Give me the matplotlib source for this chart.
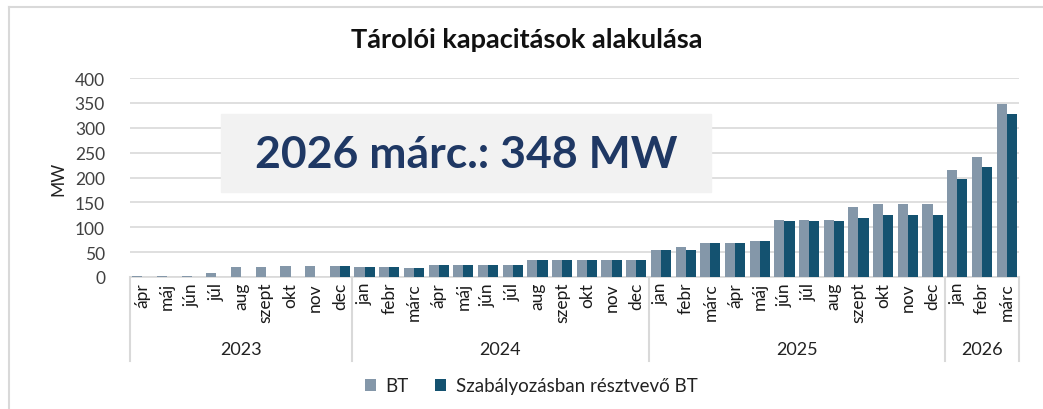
import matplotlib
matplotlib.use("Agg")
import matplotlib.pyplot as plt
import matplotlib.transforms as mtransforms
from matplotlib.patches import Rectangle
from matplotlib.lines import Line2D
import numpy as np

plt.rcParams["font.family"] = ["Lato", "DejaVu Sans"]

### Data ###
months = ["ápr", "máj", "jún", "júl", "aug", "szept", "okt", "nov", "dec",
          "jan", "febr", "márc", "ápr", "máj", "jún", "júl", "aug", "szept", "okt", "nov", "dec",
          "jan", "febr", "márc", "ápr", "máj", "jún", "júl", "aug", "szept", "okt", "nov", "dec",
          "jan", "febr", "márc"]
years = ["2023", "2024", "2025", "2026"]
year_counts = [9, 12, 12, 3]

bt = [3, 3, 3, 9, 20, 20, 22, 22, 22,
      21, 21, 19, 25, 25, 25, 25, 34, 34, 34, 34, 34,
      55, 60, 68, 68, 73, 114, 114, 114, 140, 146, 146, 146,
      216, 241, 348]
szab = [0, 0, 0, 0, 0, 0, 0, 0, 22,
        21, 21, 19, 25, 25, 25, 25, 34, 34, 34, 34, 34,
        55, 55, 68, 68, 73, 112, 112, 112, 118, 124, 124, 124,
        197, 221, 328]

col_bt = "#8497a9"
col_szab = "#145270"
txt_col = "#404040"

W, H = 1043, 410
fig = plt.figure(figsize=(W / 100, H / 100), dpi=100)
ax = fig.add_axes([130 / W, 1 - 278 / H, (1019 - 130) / W, (278 - 79) / H])

x = np.arange(len(months))
bw = 0.41
ax.bar(x - bw / 2, bt, width=bw, color=col_bt, zorder=3, label="BT")
ax.bar(x + bw / 2, szab, width=bw, color=col_szab, zorder=3, label="Szabályozásban résztvevő BT")

ax.set_xlim(-0.5, len(months) - 0.5)
ax.set_ylim(0, 400)
ax.set_yticks(np.arange(0, 401, 50))
ax.yaxis.grid(True, color="#d9d9d9", lw=1.2, zorder=0)
for s in ["top", "right", "left"]:
    ax.spines[s].set_visible(False)
ax.spines["bottom"].set_color("#d9d9d9")
ax.spines["bottom"].set_linewidth(1.2)
ax.tick_params(axis="y", length=0, pad=18, labelsize=12.5, labelcolor=txt_col)
ax.tick_params(axis="x", length=0)
ax.set_xticks([])
ax.set_ylabel("MW", fontsize=12.5, color="#222222", labelpad=6)

# multi-level category axis
trans = mtransforms.blended_transform_factory(ax.transData, ax.transAxes)
for i, m in enumerate(months):
    ax.text(i, -0.025, m, rotation=90, ha="center", va="top", fontsize=12.5,
            color="#1a1a1a", transform=trans)
bounds = np.concatenate([[0], np.cumsum(year_counts)]) - 0.5
for b in bounds:
    ax.plot([b, b], [0, -0.42], transform=trans, color="#d9d9d9", lw=1.5,
            clip_on=False)
for y, a, b in zip(years, bounds[:-1], bounds[1:]):
    ax.text((a + b) / 2, -0.36, y, ha="center", va="center", fontsize=13,
            color="#222222", transform=trans)

# title and frame
fig.text(527 / W, 1 - 40 / H, "Tárolói kapacitások alakulása", ha="center",
         va="center", fontsize=19.5, fontweight="bold", color="#111111")
fig.add_artist(Line2D([9 / W, 9 / W], [0, 1 - 8 / H], color="#d9d9d9", lw=1.5))
fig.add_artist(Line2D([9 / W, 1], [1 - 8 / H, 1 - 8 / H], color="#d9d9d9", lw=1.5))

# annotation box
fig.add_artist(Rectangle((221 / W, 1 - 193 / H), (711 - 221) / W, (193 - 115) / H,
                         transform=fig.transFigure, color="#f2f2f2", zorder=5))
fig.text(466 / W, 1 - 155 / H, "2026 márc.: 348 MW", ha="center", va="center",
         fontsize=32, fontweight="bold", color="#1f3864", zorder=6)

fig.legend(loc="center", bbox_to_anchor=(531 / W, 1 - 387 / H), ncol=2,
           frameon=False, fontsize=13.5, handlelength=0.6, handleheight=0.6,
           columnspacing=1.4, handletextpad=0.5, labelcolor="#222222")

fig.savefig("out.png", dpi=100)
